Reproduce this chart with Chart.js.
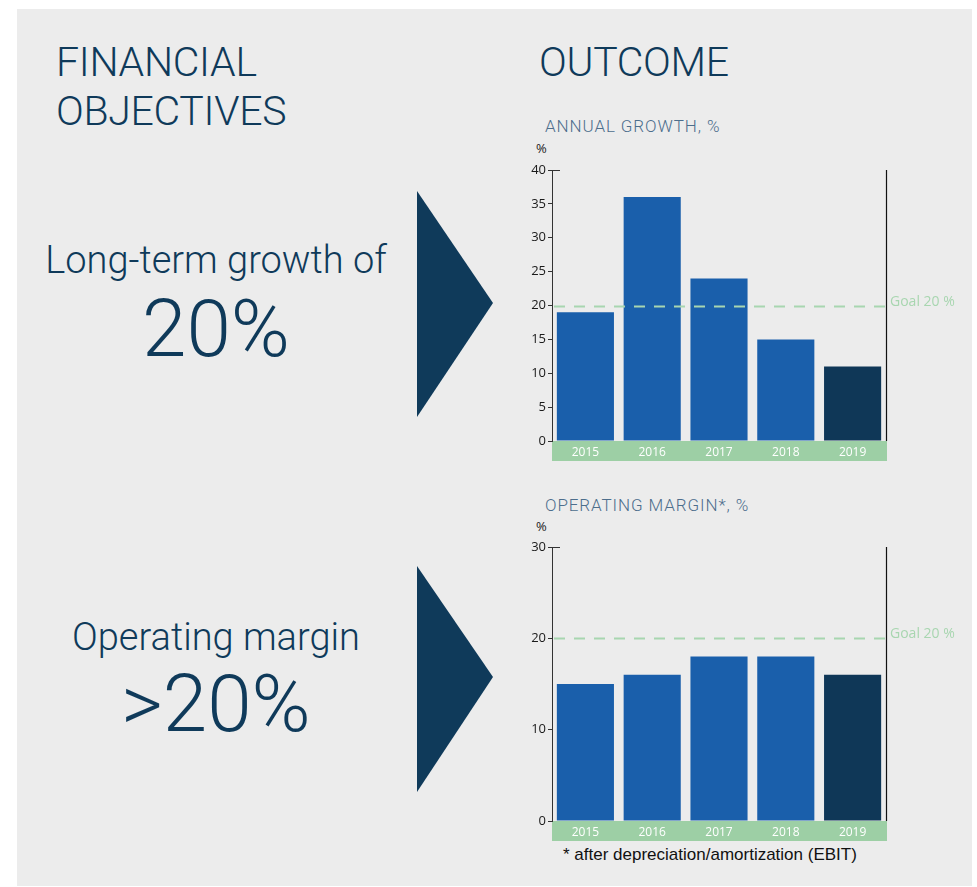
<!DOCTYPE html>
<html>
<head>
<meta charset="utf-8">
<script src="https://cdn.jsdelivr.net/npm/chart.js@4.4.1/dist/chart.umd.min.js"></script>
<style>
  html, body { margin: 0; padding: 0; background: #ffffff; }
  body { width: 977px; height: 887px; position: relative; overflow: hidden; }
  #panel { position: absolute; left: 17px; top: 9px; width: 955px; height: 877px; background: #ececec; }
  .head { position: absolute; font-family: Roboto, sans-serif; font-weight: 300; color: #0f3a5a;
          font-size: 41px; line-height: 49px; letter-spacing: -0.3px; margin: 0; }
  .goalText { position: absolute; width: 400px; left: 16px; text-align: center;
              font-family: Roboto, sans-serif; font-weight: 300; color: #0f3a5a; margin: 0; white-space: nowrap; }
  .big { font-size: 38px; }
  .huge { font-size: 80px; }
  .ctitle { position: absolute; left: 545px; font-family: Roboto, sans-serif; font-weight: 300; font-size: 17px;
            color: #4d6e8c; letter-spacing: 0.9px; }
  .unit { position: absolute; left: 536px; font-family: "Open Sans", sans-serif; font-size: 13px; color: #222; }
  .note { position: absolute; left: 563px; top: 845px; font-family: "Liberation Sans", Arial, sans-serif;
          font-size: 17px; color: #111; }
  canvas { position: absolute; }
  svg { position: absolute; }
</style>
</head>
<body>
<div id="panel"></div>

<div class="head" style="left:56px; top:38px;">FINANCIAL<br>OBJECTIVES</div>
<div class="head" style="left:539px; top:38px;">OUTCOME</div>

<div class="goalText big" style="top:238px;">Long-term growth of</div>
<div class="goalText huge" style="top:282px;">20%</div>
<div class="goalText big" style="top:615px;">Operating margin</div>
<div class="goalText huge" style="top:657px;">&gt;20%</div>

<svg style="left:417px; top:191px;" width="77" height="227"><polygon points="0,0 76,112 0,226" fill="#0f3a5a"/></svg>
<svg style="left:417px; top:566px;" width="77" height="227"><polygon points="0,0 76,111 0,226" fill="#0f3a5a"/></svg>

<div class="ctitle" style="top:116px;">ANNUAL GROWTH, %</div>
<div class="unit" style="top:139px;">%</div>
<canvas id="growthChart" width="457" height="305" style="left:520px; top:160px;"></canvas>

<div class="ctitle" style="top:495px;">OPERATING MARGIN*, %</div>
<div class="unit" style="top:517px;">%</div>
<canvas id="marginChart" width="457" height="308" style="left:520px; top:537px;"></canvas>

<div class="note">* after depreciation/amortization (EBIT)</div>

<script>
// datos
const years = ['2015', '2016', '2017', '2018', '2019'];
const growthValues = [19, 36, 24, 15, 11];
const marginValues = [15, 16, 18, 18, 16];
const growthGoal = 20;
const marginGoal = 20;
const growthMax = 40;
const growthStep = 5;
const marginMax = 30;
const marginStep = 10;

const BLUE = '#1a5fab';
const NAVY = '#0f3757';
const GREEN = '#9dcfa5';
const GOAL_GREEN = '#a8d6b0';

// plugin: banda verde, linea meta, borde derecho
const decorPlugin = {
    id: 'decor',
    beforeDraw(chart) {
        const ctx = chart.ctx;
        const area = chart.chartArea;
        const x = chart.scales.x;
        ctx.save();
        ctx.fillStyle = GREEN;
        ctx.fillRect(area.left, x.top, area.right - area.left + 1, x.bottom - x.top);
        ctx.restore();
    },
    afterDatasetsDraw(chart, args, opts) {
        const ctx = chart.ctx;
        const area = chart.chartArea;
        const y = chart.scales.y;
        const gy = Math.round(y.getPixelForValue(opts.goal)) + 0.5;
        ctx.save();
        ctx.strokeStyle = GOAL_GREEN;
        ctx.lineWidth = 2;
        ctx.setLineDash([11, 9]);
        ctx.beginPath();
        ctx.moveTo(area.left + 2, gy);
        ctx.lineTo(area.right, gy);
        ctx.stroke();
        ctx.setLineDash([]);

        // borde derecho
        ctx.strokeStyle = '#111';
        ctx.lineWidth = 1.2;
        ctx.beginPath();
        ctx.moveTo(area.right + 0.5, area.top);
        ctx.lineTo(area.right + 0.5, area.bottom);
        ctx.stroke();

        // tick superior
        ctx.strokeStyle = '#333';
        ctx.lineWidth = 1;
        ctx.beginPath();
        ctx.moveTo(area.left, area.top + 0.5);
        ctx.lineTo(area.left + 8, area.top + 0.5);
        ctx.stroke();

        ctx.fillStyle = GOAL_GREEN;
        ctx.font = '14px "Open Sans"';
        ctx.textBaseline = 'middle';
        ctx.fillText('Goal ' + opts.goal + ' %', area.right + 4, gy - 4);
        ctx.restore();
    }
};

function crearGrafico(id, values, goal, max, step) {
    return new Chart(document.getElementById(id).getContext('2d'), {
        type: 'bar',
        data: {
            labels: years,
            datasets: [{
                data: values,
                backgroundColor: years.map((y, i) => i === years.length - 1 ? NAVY : BLUE),
                categoryPercentage: 1,
                barPercentage: 0.855
            }]
        },
        options: {
            responsive: false,
            animation: false,
            layout: { padding: { top: 10, right: 91, bottom: 4, left: 0 } },
            plugins: {
                legend: { display: false },
                tooltip: { enabled: false },
                decor: { goal: goal }
            },
            scales: {
                x: {
                    grid: { display: false, drawTicks: false },
                    border: { display: false },
                    ticks: { color: '#ffffff', font: { family: 'Open Sans', size: 12 }, padding: 4 },
                    afterFit(scale) { scale.height = 20; }
                },
                y: {
                    min: 0,
                    max: max,
                    ticks: { stepSize: step, color: '#1a1a1a', font: { family: 'Open Sans', size: 13 }, padding: 2 },
                    grid: { drawOnChartArea: false, drawTicks: true, tickLength: 4, color: '#333' },
                    border: { display: true, color: '#333', width: 1 },
                    afterFit(scale) { scale.width = 32; }
                }
            }
        },
        plugins: [decorPlugin]
    });
}

var chartGrowth = crearGrafico('growthChart', growthValues, growthGoal, growthMax, growthStep);
var chartMargin = crearGrafico('marginChart', marginValues, marginGoal, marginMax, marginStep);
</script>
</body>
</html>
